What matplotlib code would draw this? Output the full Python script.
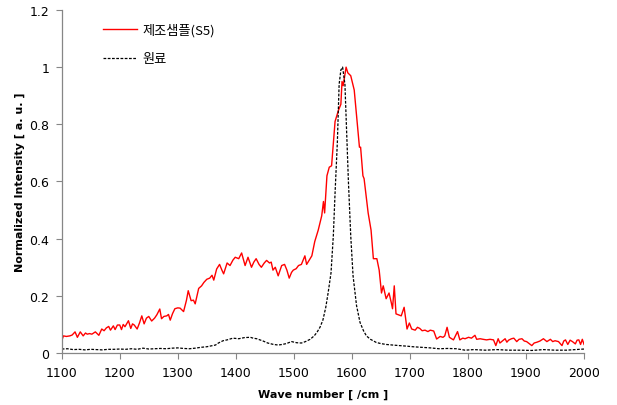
import matplotlib.pyplot as plt

# 제조샘플(S5)
sample_x = [
    1100, 1103, 1108, 1114, 1118, 1123, 1127, 1132, 1137, 1141, 1144, 1148, 1152, 1158, 1164, 1169,
    1173, 1177, 1181, 1184, 1189, 1192, 1196, 1200, 1203, 1206, 1209, 1215, 1219, 1222, 1225, 1230,
    1234, 1238, 1242, 1246, 1250, 1255, 1260, 1264, 1269, 1272, 1276, 1281, 1284, 1287, 1291, 1295,
    1300, 1304, 1310, 1315, 1318, 1323, 1327, 1330, 1336, 1341, 1345, 1350, 1355, 1359, 1362, 1367,
    1372, 1376, 1379, 1385, 1390, 1395, 1399, 1405, 1410, 1416, 1421, 1427, 1431, 1435, 1440, 1444,
    1449, 1453, 1458, 1461, 1464, 1468, 1473, 1479, 1484, 1488, 1492, 1496, 1499, 1504, 1508, 1513,
    1519, 1522, 1528, 1531, 1536, 1542, 1548, 1551, 1553, 1557, 1561, 1565, 1571, 1577, 1581, 1583,
    1585, 1590, 1593, 1598, 1604, 1608, 1613, 1615, 1619, 1621, 1628, 1633, 1637, 1643, 1647, 1651,
    1654, 1659, 1664, 1668, 1670, 1673, 1676, 1685, 1690, 1695, 1699, 1703, 1709, 1713, 1717, 1721,
    1726, 1731, 1735, 1741, 1746, 1752, 1757, 1760, 1764, 1768, 1775, 1782, 1786, 1791, 1795, 1801,
    1806, 1812, 1815, 1821, 1826, 1832, 1838, 1844, 1848, 1852, 1855, 1858, 1864, 1867, 1870, 1875,
    1879, 1884, 1888, 1893, 1897, 1901, 1906, 1910, 1914, 1919, 1924, 1930, 1936, 1942, 1946, 1950,
    1956, 1962, 1965, 1968, 1972, 1976, 1980, 1985, 1988, 1991, 1994, 1997, 2000,
]
sample_y = [
    0.043, 0.060, 0.058, 0.060, 0.063, 0.074, 0.055, 0.074, 0.060, 0.070, 0.066, 0.068, 0.066, 0.074, 0.062, 0.084,
    0.078, 0.088, 0.093, 0.080, 0.095, 0.082, 0.098, 0.098, 0.082, 0.100, 0.092, 0.113, 0.086, 0.102, 0.098, 0.084,
    0.105, 0.130, 0.102, 0.122, 0.128, 0.112, 0.122, 0.134, 0.154, 0.120, 0.128, 0.130, 0.135, 0.115, 0.138, 0.155,
    0.158, 0.157, 0.145, 0.185, 0.218, 0.183, 0.185, 0.172, 0.226, 0.235, 0.247, 0.258, 0.262, 0.272, 0.255, 0.294,
    0.310, 0.290, 0.277, 0.315, 0.306, 0.325, 0.335, 0.330, 0.350, 0.306, 0.335, 0.300, 0.318, 0.330, 0.310, 0.300,
    0.315, 0.324, 0.315, 0.318, 0.290, 0.300, 0.270, 0.306, 0.310, 0.290, 0.262, 0.282, 0.290, 0.295, 0.306, 0.310,
    0.340, 0.310, 0.330, 0.340, 0.390, 0.430, 0.480, 0.530, 0.490, 0.620, 0.650, 0.655, 0.810, 0.850, 0.870, 0.950,
    0.935, 1.000, 0.980, 0.970, 0.920, 0.830, 0.720, 0.720, 0.620, 0.610, 0.490, 0.430, 0.330, 0.330, 0.290, 0.210,
    0.235, 0.190, 0.210, 0.175, 0.155, 0.235, 0.137, 0.130, 0.160, 0.084, 0.105, 0.084, 0.080, 0.090, 0.086, 0.078,
    0.080, 0.075, 0.080, 0.077, 0.049, 0.058, 0.055, 0.060, 0.090, 0.055, 0.046, 0.075, 0.046, 0.052, 0.050, 0.055,
    0.052, 0.062, 0.048, 0.050, 0.048, 0.046, 0.048, 0.046, 0.026, 0.050, 0.035, 0.040, 0.050, 0.038, 0.045, 0.050,
    0.052, 0.040, 0.048, 0.050, 0.042, 0.040, 0.032, 0.026, 0.035, 0.038, 0.042, 0.050, 0.040, 0.048, 0.040, 0.043,
    0.040, 0.026, 0.042, 0.046, 0.030, 0.045, 0.040, 0.032, 0.045, 0.046, 0.030, 0.048, 0.030,
]

# 원료
raw_x = [
    1100, 1110, 1120, 1130, 1140, 1150, 1160, 1170, 1180, 1190, 1200, 1210, 1220, 1230, 1240, 1250,
    1260, 1270, 1280, 1290, 1300, 1310, 1320, 1330, 1340, 1350, 1360, 1365, 1370, 1378, 1385, 1395,
    1405, 1415, 1425, 1430, 1436, 1447, 1455, 1465, 1473, 1480, 1487, 1496, 1505, 1513, 1520, 1528,
    1535, 1540, 1545, 1550, 1555, 1559, 1564, 1568, 1571, 1575, 1578, 1581, 1584, 1586, 1588, 1591,
    1594, 1598, 1602, 1608, 1614, 1620, 1625, 1632, 1642, 1650, 1659, 1670, 1682, 1695, 1705, 1720,
    1735, 1750, 1765, 1780, 1795, 1810, 1830, 1850, 1870, 1890, 1910, 1930, 1950, 1970, 1985, 2000,
]
raw_y = [
    0.014, 0.015, 0.012, 0.013, 0.011, 0.013, 0.012, 0.011, 0.013, 0.013, 0.014, 0.013, 0.015, 0.013, 0.017, 0.014,
    0.015, 0.016, 0.015, 0.017, 0.018, 0.016, 0.015, 0.017, 0.020, 0.022, 0.026, 0.028, 0.035, 0.043, 0.046, 0.052,
    0.050, 0.054, 0.055, 0.052, 0.050, 0.042, 0.035, 0.030, 0.028, 0.030, 0.033, 0.040, 0.036, 0.035, 0.040, 0.048,
    0.060, 0.073, 0.090, 0.115, 0.160, 0.210, 0.280, 0.410, 0.560, 0.740, 0.940, 0.990, 1.000, 0.970, 0.940, 0.770,
    0.600, 0.410, 0.270, 0.166, 0.107, 0.078, 0.060, 0.048, 0.037, 0.033, 0.030, 0.028, 0.026, 0.024, 0.022, 0.020,
    0.018, 0.015, 0.016, 0.015, 0.010, 0.012, 0.010, 0.012, 0.010, 0.010, 0.009, 0.012, 0.010, 0.010, 0.012, 0.014,
]

x_ticks = [1100, 1200, 1300, 1400, 1500, 1600, 1700, 1800, 1900, 2000]
y_ticks = [0, 0.2, 0.4, 0.6, 0.8, 1, 1.2]
y_tick_labels = ["0", "0.2", "0.4", "0.6", "0.8", "1", "1.2"]


def main() -> None:
    plt.rcParams["font.family"] = ["DejaVu Sans", "Noto Sans CJK KR"]

    fig = plt.figure(figsize=(6.17, 4.06), dpi=100)
    ax = fig.add_axes([0.1, 0.128, 0.8466, 0.845])

    ax.plot(sample_x, sample_y, color="#FF0000", linewidth=1.0, label="제조샘플(S5)")
    ax.plot(raw_x, raw_y, color="#000000", linewidth=0.9, linestyle=(0, (2.2, 1.2)), label="원료")

    ax.set_xlim(1100, 2000)
    ax.set_ylim(0, 1.2)
    ax.set_xticks(x_ticks)
    ax.set_yticks(y_ticks)
    ax.set_yticklabels(y_tick_labels)
    ax.tick_params(direction="out", length=4, width=0.8, color="#868686", labelsize=9, pad=5)

    for side in ("top", "right"):
        ax.spines[side].set_visible(False)
    for side in ("left", "bottom"):
        ax.spines[side].set_color("#868686")
        ax.spines[side].set_linewidth(0.9)

    ax.set_xlabel("Wave number [ /cm ]", fontsize=8, fontweight="bold", labelpad=7)
    ax.set_ylabel("Normalized Intensity [ a. u. ]", fontsize=8, fontweight="bold", labelpad=3)

    ax.legend(
        loc="upper left",
        bbox_to_anchor=(0.056, 0.995),
        frameon=False,
        handlelength=2.6,
        handletextpad=0.4,
        labelspacing=1.15,
        prop={"family": ["Noto Sans CJK KR", "DejaVu Sans"], "size": 9.5},
    )

    fig.savefig("out.png", dpi=100)
    plt.close(fig)


if __name__ == "__main__":
    main()
